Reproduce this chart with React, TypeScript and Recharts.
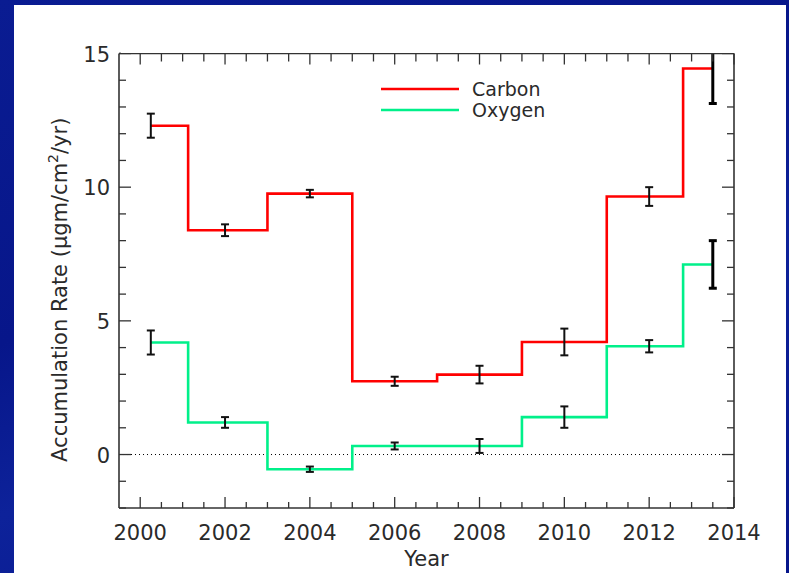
import React from "react";
import {
  ComposedChart, Line, Scatter, ErrorBar, XAxis, YAxis, ReferenceLine, Legend,
} from "recharts";

// bin edges (years); each series value holds from its edge to the next one
const EDGES = [2000.25, 2001.13, 2003, 2005, 2007, 2009, 2011, 2012.8, 2013.5];
const CARBON = [12.3, 8.39, 9.76, 2.74, 2.99, 4.21, 9.65, 14.44];
const OXYGEN = [4.19, 1.2, -0.55, 0.32, 0.32, 1.4, 4.05, 7.11];

// measurement epochs and their uncertainties
const ERR_YEARS = [2000.25, 2002, 2004, 2006, 2008, 2010, 2012, 2013.5];
const CARBON_ERR = [0.45, 0.22, 0.14, 0.17, 0.33, 0.5, 0.35, 1.31];
const OXYGEN_ERR = [0.45, 0.2, 0.1, 0.13, 0.26, 0.4, 0.23, 0.89];

const YEAR_LABELS = [2000, 2002, 2004, 2006, 2008, 2010, 2012, 2014];
const RATE_LABELS = [0, 5, 10, 15];

const FONT = "DejaVu Sans";
const INK = "#2a2a2a";
const FRAME = "#333";
const RED = "#ff0000";
const GREEN = "#00f08a";

const W = 789;
const H = 573;

// half-year minor ticks on x, unit minor ticks on y
const X_TICKS: number[] = [];
for (let t = YEAR_LABELS[0]; t <= YEAR_LABELS[YEAR_LABELS.length - 1]; t += 0.5) X_TICKS.push(t);
const Y_TICKS: number[] = [];
for (let t = -2; t <= 15; t += 1) Y_TICKS.push(t);

// step series: repeat the last value at the closing edge
const stepData = EDGES.map((year, i) => ({
  year,
  carbon: CARBON[Math.min(i, CARBON.length - 1)],
  oxygen: OXYGEN[Math.min(i, OXYGEN.length - 1)],
}));

const errData = ERR_YEARS.map((year, i) => ({
  year,
  carbon: CARBON[i],
  carbonErr: CARBON_ERR[i],
  oxygen: OXYGEN[i],
  oxygenErr: OXYGEN_ERR[i],
}));
// the latest epoch is drawn heavier
const errMain = errData.slice(0, -1);
const errLast = errData.slice(-1);

const BottomTick = ({ x, y, payload }: any) => {
  const v = payload.value;
  const major = YEAR_LABELS.includes(v);
  return (
    <g>
      <line x1={x} x2={x} y1={y} y2={y - (major ? 11 : 6)} stroke={FRAME} strokeWidth={1.3} />
      {major && (
        <text x={x} y={y + 32} textAnchor="middle" fontFamily={FONT} fontSize={21} fill={INK}>
          {v}
        </text>
      )}
    </g>
  );
};

const TopTick = ({ x, y, payload }: any) => {
  const major = YEAR_LABELS.includes(payload.value);
  return <line x1={x} x2={x} y1={y} y2={y + (major ? 11 : 8)} stroke={FRAME} strokeWidth={1.3} />;
};

const LeftTick = ({ x, y, payload }: any) => {
  const v = payload.value;
  const major = RATE_LABELS.includes(v);
  return (
    <g>
      <line x1={x} x2={x + (major ? 12 : 7)} y1={y} y2={y} stroke={FRAME} strokeWidth={1.3} />
      {major && (
        <text x={x - 9} y={y + 8} textAnchor="end" fontFamily={FONT} fontSize={21} fill={INK}>
          {v}
        </text>
      )}
    </g>
  );
};

const RightTick = ({ x, y, payload }: any) => {
  const major = RATE_LABELS.includes(payload.value);
  return <line x1={x} x2={x - (major ? 12 : 7)} y1={y} y2={y} stroke={FRAME} strokeWidth={1.3} />;
};

const YTitle = ({ viewBox }: any) => {
  const x = viewBox.x + 8;
  const y = viewBox.y + viewBox.height / 2 + 9;
  return (
    <text
      x={x} y={y} transform={`rotate(-90 ${x} ${y})`}
      textAnchor="middle" fontFamily={FONT} fontSize={21} fill={INK}
    >
      Accumulation Rate (μgm/cm<tspan dy={-9} fontSize={14}>2</tspan>
      <tspan dy={9}>/yr)</tspan>
    </text>
  );
};

const XTitle = ({ viewBox }: any) => (
  <text
    x={viewBox.x + viewBox.width / 2} y={viewBox.y + 58}
    textAnchor="middle" fontFamily={FONT} fontSize={21} fill={INK}
  >
    Year
  </text>
);

const LegendBox = ({ payload }: any) => (
  <svg width={190} height={50} style={{ display: "block" }}>
    {(payload || [])
      .filter((p: any) => p.type !== "none")
      .map((p: any, i: number) => (
        <g key={p.value}>
          <line x1={6} x2={84} y1={14 + i * 21} y2={14 + i * 21} stroke={p.color} strokeWidth={2.5} />
          <text x={97} y={21 + i * 21} fontFamily={FONT} fontSize={19} fill={INK}>
            {p.value}
          </text>
        </g>
      ))}
  </svg>
);

export default function App() {
  return (
    <div style={{ position: "absolute", left: 0, top: 0, width: W, height: H, overflow: "hidden",
      background: "linear-gradient(160deg, #0a1c92 0%, #07168a 40%, #0d229a 60%, #06158a 100%)" }}>
      <div style={{ position: "absolute", left: 14, top: 5, width: 772, height: 568, background: "#fff" }} />
      <div style={{ position: "absolute", left: 0, top: 0 }}>
        <ComposedChart width={W} height={H} margin={{ top: 52.5, right: 54, bottom: 0, left: 59 }}>
          <XAxis
            dataKey="year" type="number" domain={[1999.5, 2014]} allowDataOverflow
            ticks={X_TICKS} interval={0} tickSize={0} tickMargin={0}
            tick={<BottomTick />} height={65}
            axisLine={{ stroke: FRAME, strokeWidth: 1.6 }}
            label={<XTitle />}
          />
          <XAxis
            xAxisId="top" orientation="top" dataKey="year" type="number" domain={[1999.5, 2014]}
            allowDataOverflow ticks={X_TICKS} interval={0} tickSize={0} tickMargin={0}
            tick={<TopTick />} height={1}
            axisLine={{ stroke: FRAME, strokeWidth: 1.6 }}
          />
          <YAxis
            type="number" domain={[-2, 15]} allowDataOverflow ticks={Y_TICKS} interval={0}
            tickSize={0} tickMargin={0} tick={<LeftTick />} width={60}
            axisLine={{ stroke: FRAME, strokeWidth: 1.6 }}
            label={<YTitle />}
          />
          <YAxis
            yAxisId="right" orientation="right" type="number" domain={[-2, 15]} allowDataOverflow
            ticks={Y_TICKS} interval={0} tickSize={0} tickMargin={0} tick={<RightTick />} width={1}
            axisLine={{ stroke: FRAME, strokeWidth: 1.6 }}
          />
          <ReferenceLine y={0} stroke="#000" strokeWidth={1} strokeDasharray="1 3" />
          <Line
            data={stepData} dataKey="carbon" name="Carbon" type="stepAfter" stroke={RED}
            strokeWidth={2.6} dot={false} activeDot={false} isAnimationActive={false}
          />
          <Line
            data={stepData} dataKey="oxygen" name="Oxygen" type="stepAfter" stroke={GREEN}
            strokeWidth={2.6} dot={false} activeDot={false} isAnimationActive={false}
          />
          <Scatter data={errMain} dataKey="carbon" legendType="none" shape={() => <g />} isAnimationActive={false}>
            <ErrorBar dataKey="carbonErr" direction="y" width={4} stroke="#111" strokeWidth={2} isAnimationActive={false} />
          </Scatter>
          <Scatter data={errMain} dataKey="oxygen" legendType="none" shape={() => <g />} isAnimationActive={false}>
            <ErrorBar dataKey="oxygenErr" direction="y" width={4} stroke="#111" strokeWidth={2} isAnimationActive={false} />
          </Scatter>
          <Scatter data={errLast} dataKey="carbon" legendType="none" shape={() => <g />} isAnimationActive={false}>
            <ErrorBar dataKey="carbonErr" direction="y" width={4} stroke="#000" strokeWidth={3} isAnimationActive={false} />
          </Scatter>
          <Scatter data={errLast} dataKey="oxygen" legendType="none" shape={() => <g />} isAnimationActive={false}>
            <ErrorBar dataKey="oxygenErr" direction="y" width={4} stroke="#000" strokeWidth={3} isAnimationActive={false} />
          </Scatter>
          <Legend
            layout="horizontal" verticalAlign="middle" align="center"
            content={<LegendBox />}
            wrapperStyle={{ left: 375, top: 75, width: 190, height: 50 }}
          />
        </ComposedChart>
      </div>
      {/* error bars running past the top of the frame are hidden */}
      <div style={{ position: "absolute", left: 121, top: 5, width: 665, height: 47.5, background: "#fff" }} />
    </div>
  );
}
